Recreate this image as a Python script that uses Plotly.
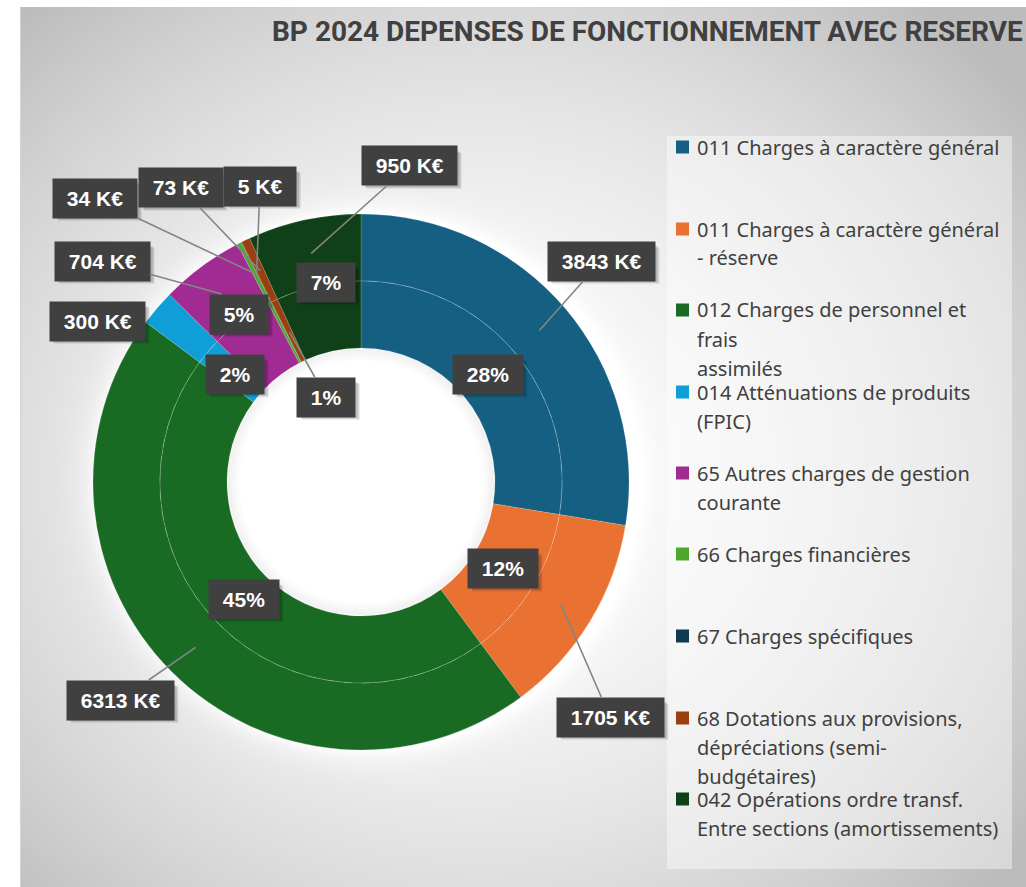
import zlib, struct, base64
import numpy as np
import plotly.graph_objects as go

# ---------------- data ----------------
categories = [
    "011 Charges à caractère général",
    "011 Charges à caractère général - réserve",
    "012 Charges de personnel et frais assimilés",
    "014 Atténuations de produits (FPIC)",
    "65 Autres charges de gestion courante",
    "66 Charges financières",
    "67 Charges spécifiques",
    "68 Dotations aux provisions, dépréciations (semi-budgétaires)",
    "042 Opérations ordre transf. Entre sections (amortissements)",
]
values_keur = [3843, 1705, 6313, 300, 704, 34, 5, 73, 950]
legend_lines = [
    ["011 Charges à caractère général"],
    ["011 Charges à caractère général", "- réserve"],
    ["012 Charges de personnel et", "frais", "assimilés"],
    ["014 Atténuations de produits", "(FPIC)"],
    ["65 Autres charges de gestion", "courante"],
    ["66 Charges financières"],
    ["67 Charges spécifiques"],
    ["68 Dotations aux provisions,", "dépréciations (semi-", "budgétaires)"],
    ["042 Opérations ordre transf.", "Entre sections (amortissements)"],
]
title_text = "BP 2024 DEPENSES DE FONCTIONNEMENT AVEC RESERVE"

# ---------------- style / layout ----------------
colors = ["#156082", "#E97132", "#196B24", "#0F9ED5", "#A02B93",
          "#4EA72E", "#0D3A50", "#9A3F0F", "#0F4017"]
W, H = 1026, 887
CX, CY = 361, 482
R_OUT, R_MID, R_IN = 268, 201, 134
R_OUT_LABEL, R_IN_LABEL = 234, 166

# outer label box centres (px) and whether a leader line is drawn
outer_box = {0: (601, 261), 1: (610, 717), 2: (120, 700), 3: (97, 321),
             4: (102, 261), 5: (95, 198), 7: (181, 188), 6: (260, 186), 8: (409, 166)}
outer_leader = {0: True, 1: True, 2: True, 3: False, 4: True, 5: True, 6: True, 7: True, 8: True}
outer_order = [0, 1, 2, 3, 4, 5, 7, 6, 8]
# inner label overrides: index -> (box centre, leader?)
inner_override = {4: ((239, 314), False), 8: ((326, 282), False), 7: ((326, 397), True)}

legend_x_sq, legend_x_txt = 676, 695
legend_item_y = [147, 229, 310, 392, 473, 554, 636, 718, 799]
legend_line_h = 29

FS = 21
LABEL_FONT = dict(family="Liberation Sans, Arial, sans-serif", size=FS, color="white")
BOX_BG = "#404040"
LEADER = "#858585"
NB = "\u00a0"
PAD = 8
CHAR_EM = {"K": 0.722, "€": 0.556, "%": 0.889, " ": 0.278, NB: 0.278}


def text_w(s):
    return sum(CHAR_EM.get(c, 0.556) for c in s) * FS


def px(x):
    return x / W


def py(y):
    return 1 - y / H


# ---------------- background image ----------------
yy, xx = np.mgrid[0:H, 0:W].astype(float)
d = np.sqrt(((xx - 480) / 620) ** 2 + ((yy - 470) / 560) ** 2)
v = 251 - 52 * np.clip(d, 0, 1.1) ** 2
rr = np.sqrt((xx - CX) ** 2 + (yy - CY) ** 2)
glow = np.where(rr > R_OUT, 18 * np.exp(-(rr - R_OUT) / 14), 0)
v = np.clip(v + glow, 0, 255)
img = np.repeat(v[:, :, None], 3, axis=2).astype(np.uint8)
img[:7, :, :] = 255
img[:, :20, :] = 255
img[7:, 20:21, :] = 212


def make_png(arr):
    h, w, _ = arr.shape
    raw = b"".join(b"\x00" + arr[i].tobytes() for i in range(h))

    def chunk(t, dd):
        c = struct.pack(">I", len(dd)) + t + dd
        return c + struct.pack(">I", zlib.crc32(t + dd) & 0xffffffff)

    png = (b"\x89PNG\r\n\x1a\n"
           + chunk(b"IHDR", struct.pack(">IIBBBBB", w, h, 8, 2, 0, 0, 0))
           + chunk(b"IDAT", zlib.compress(raw, 9))
           + chunk(b"IEND", b""))
    return "data:image/png;base64," + base64.b64encode(png).decode()


bg_uri = make_png(img)

# ---------------- figure ----------------
fig = go.Figure()
line_style = dict(color="rgba(255,255,255,0.25)", width=0.6)
fig.add_trace(go.Pie(
    labels=categories, values=values_keur, hole=R_MID / R_OUT, sort=False,
    direction="clockwise", rotation=0, textinfo="none", showlegend=False,
    marker=dict(colors=colors, line=line_style),
    domain=dict(x=[px(CX - R_OUT), px(CX + R_OUT)], y=[py(CY + R_OUT), py(CY - R_OUT)]),
))
fig.add_trace(go.Pie(
    labels=categories, values=values_keur, hole=R_IN / R_MID, sort=False,
    direction="clockwise", rotation=0, textinfo="none", showlegend=False,
    marker=dict(colors=colors, line=line_style),
    domain=dict(x=[px(CX - R_MID), px(CX + R_MID)], y=[py(CY + R_MID), py(CY - R_MID)]),
))

shapes = []
# legend panel
shapes.append(dict(type="rect", xref="paper", yref="paper", x0=px(667), x1=px(1012),
                   y0=py(869), y1=py(136), fillcolor="rgba(255,255,255,0.42)",
                   line=dict(width=0), layer="below"))
# white hole with soft inner shadow
shapes.append(dict(type="circle", xref="paper", yref="paper",
                   x0=px(CX - R_IN), x1=px(CX + R_IN), y0=py(CY + R_IN), y1=py(CY - R_IN),
                   fillcolor="white", line=dict(width=0), layer="below"))
for k in range(1, 9):
    r = R_IN - k * 1.5
    shapes.append(dict(type="circle", xref="paper", yref="paper",
                       x0=px(CX - r), x1=px(CX + r), y0=py(CY + r), y1=py(CY - r),
                       line=dict(width=2, color=f"rgba(0,0,0,{0.045 * (9 - k) / 8:.3f})"),
                       layer="below"))
# faint boundary between the two rings
shapes.append(dict(type="circle", xref="paper", yref="paper",
                   x0=px(CX - R_MID), x1=px(CX + R_MID), y0=py(CY + R_MID), y1=py(CY - R_MID),
                   line=dict(width=0.8, color="rgba(255,255,255,0.2)", dash="dash"),
                   layer="above"))
# legend squares
for i, yc in enumerate(legend_item_y):
    shapes.append(dict(type="rect", xref="paper", yref="paper",
                       x0=px(legend_x_sq), x1=px(legend_x_sq + 13),
                       y0=py(yc + 6.5), y1=py(yc - 6.5),
                       fillcolor=colors[i], line=dict(width=0), layer="above"))

annotations = []
# title
annotations.append(dict(text=f"<b>{title_text}</b>", x=px(270), y=py(31), xref="paper", yref="paper",
                        xanchor="left", yanchor="middle", showarrow=False,
                        font=dict(family="Roboto, Liberation Sans, sans-serif",
                                  size=28, color="#404040")))
# legend texts
for i, lines in enumerate(legend_lines):
    for j, t in enumerate(lines):
        annotations.append(dict(text=t, x=px(legend_x_txt), y=py(legend_item_y[i] + j * legend_line_h),
                                xref="paper", yref="paper", xanchor="left", yanchor="middle",
                                showarrow=False,
                                font=dict(family="Noto Sans, Roboto, sans-serif", size=20,
                                          color="#404040")))

total = sum(values_keur)
angles = []
cum = 0
for v_ in values_keur:
    mid = (cum + v_ / 2) / total * 2 * np.pi
    angles.append(mid)
    cum += v_


def polar(r, a):
    return CX + r * np.sin(a), CY - r * np.cos(a)


def add_label(text, tip, box, leader):
    bx, by = box
    s = f"{NB}{text}{NB}"
    bw = text_w(s) + 2 * PAD
    bh = 20 + 2 * PAD
    # soft drop shadow
    for off, alpha in ((5, 0.07), (4, 0.09), (3, 0.1)):
        shapes.append(dict(type="rect", xref="paper", yref="paper",
                           x0=px(bx - bw / 2 + off), x1=px(bx + bw / 2 + off),
                           y0=py(by + bh / 2 + off), y1=py(by - bh / 2 + off),
                           fillcolor=f"rgba(0,0,0,{alpha})", line=dict(width=0), layer="above"))
    if leader:
        tx, ty = tip
        annotations.append(dict(text=f"<b>{s}</b>", x=px(tx), y=py(ty),
                                xref="paper", yref="paper", showarrow=True,
                                ax=bx - tx, ay=by - ty, axref="pixel", ayref="pixel",
                                arrowhead=0, arrowwidth=1.6, arrowcolor=LEADER, standoff=0,
                                bgcolor=BOX_BG, borderpad=PAD, font=LABEL_FONT))
    else:
        annotations.append(dict(text=f"<b>{s}</b>", x=px(bx), y=py(by),
                                xref="paper", yref="paper", showarrow=False,
                                xanchor="center", yanchor="middle",
                                bgcolor=BOX_BG, borderpad=PAD, font=LABEL_FONT))


# inner percentage labels
for i, v_ in enumerate(values_keur):
    pct = round(100 * v_ / total)
    if pct == 0:
        continue
    tip = polar(R_IN_LABEL, angles[i])
    if i in inner_override:
        box, leader = inner_override[i]
    else:
        box, leader = tip, False
    add_label(f"{pct}%", tip, box, leader)

# outer value labels
for i in outer_order:
    tip = polar(R_OUT_LABEL, angles[i])
    add_label(f"{values_keur[i]} K€", tip, outer_box[i], outer_leader[i])

fig.update_layout(
    width=W, height=H, margin=dict(l=0, r=0, t=0, b=0),
    paper_bgcolor="white", plot_bgcolor="white",
    showlegend=False, shapes=shapes, annotations=annotations,
    images=[dict(source=bg_uri, xref="paper", yref="paper", x=0, y=1, sizex=1, sizey=1,
                 xanchor="left", yanchor="top", sizing="stretch", layer="below")],
)
fig.write_html("out.html", config={"displayModeBar": False},
               post_script="document.body.style.margin='0';")
